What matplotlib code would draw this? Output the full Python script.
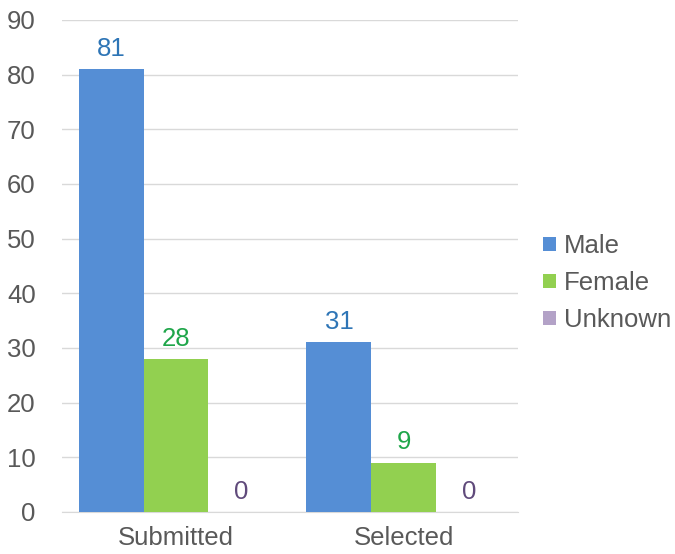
import numpy as np
import matplotlib.pyplot as plt

plt.rcParams['font.family'] = ['Liberation Sans', 'DejaVu Sans']

# data
categories = ['Submitted', 'Selected']
series_names = ['Male', 'Female', 'Unknown']
male = [81, 31]
female = [28, 9]
unknown = [0, 0]

bar_colors = ['#558ED5', '#92D050', '#B3A2C7']
label_colors = ['#2E75B6', '#1FA64A', '#604A7B']

fig = plt.figure(figsize=(6.75, 5.54), dpi=100)
ax = fig.add_axes([0.092, 0.076, 0.675, 0.888])

x = np.arange(len(categories))
w = 0.285
for i, (name, vals) in enumerate(zip(series_names, [male, female, unknown])):
    bars = ax.bar(x + (i - 1) * w, vals, w, color=bar_colors[i], label=name, zorder=3)
    ax.bar_label(bars, padding=6, fontsize=18.5, color=label_colors[i])

ax.set_xlim(-0.5, 1.5)
ax.set_ylim(0, 90)
ax.set_yticks(range(0, 91, 10))
ax.set_xticks(x)
ax.set_xticklabels(categories)
ax.tick_params(axis='both', length=0, labelsize=18.5, colors='#595959')
ax.tick_params(axis='x', pad=10)
ax.tick_params(axis='y', pad=19)
ax.grid(axis='y', color='#D9D9D9', linewidth=1, zorder=0)
for s in ['top', 'right', 'left']:
    ax.spines[s].set_visible(False)
ax.spines['bottom'].set_color('#D9D9D9')

ax.legend(loc='center left', bbox_to_anchor=(1.0, 0.465), frameon=False, fontsize=18.5,
          handlelength=0.5, handleheight=0.5, handletextpad=0.3, labelspacing=0.5,
          borderaxespad=0.8, borderpad=0.2, labelcolor='#595959')

fig.savefig('out.png', dpi=100)
